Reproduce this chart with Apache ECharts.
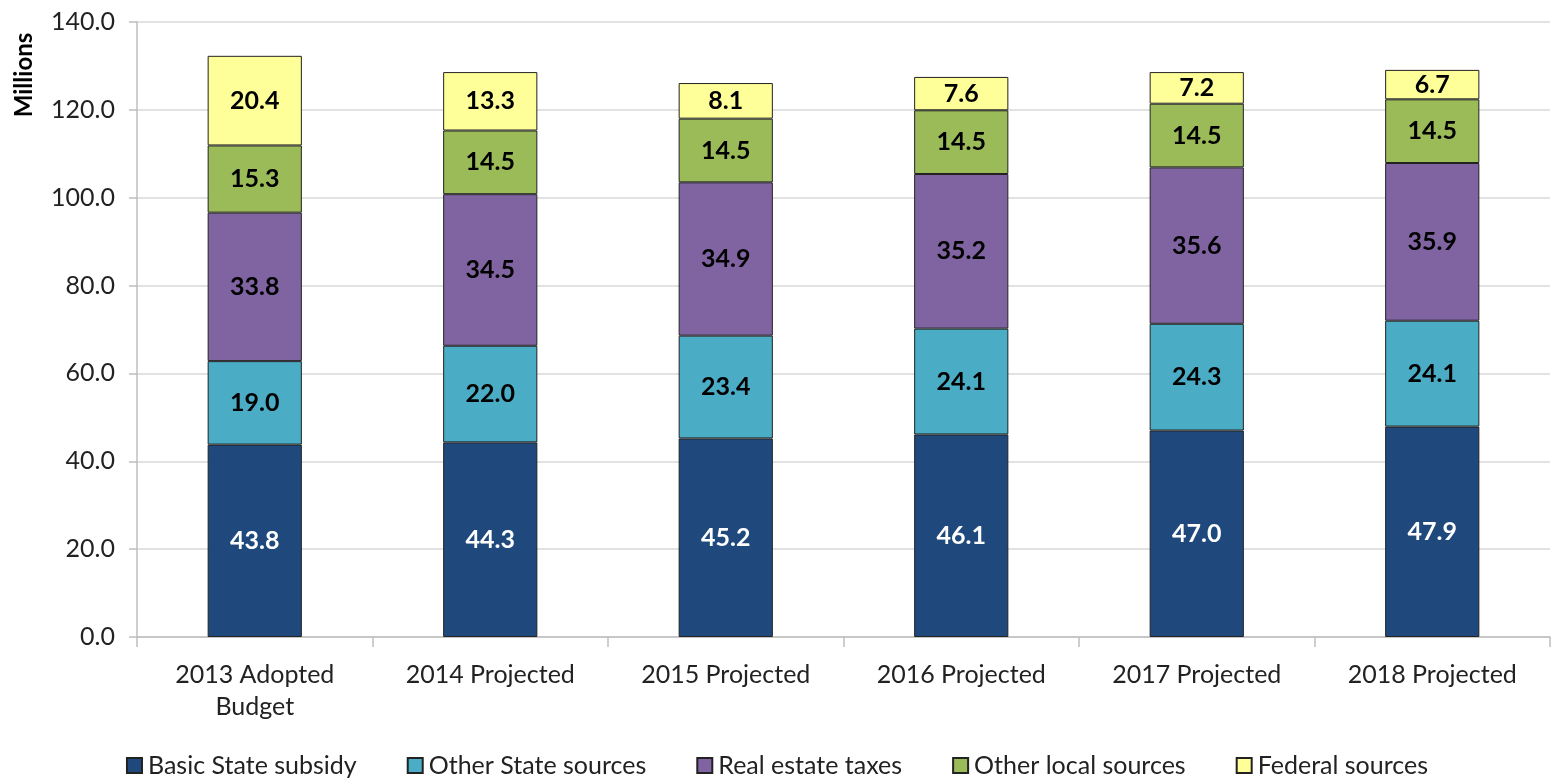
<!DOCTYPE html>
<html>
<head>
<meta charset="utf-8">
<script src="https://cdn.jsdelivr.net/npm/echarts@6/dist/echarts.min.js"></script>
<style>
    html, body { margin: 0; padding: 0; background: #fff; }
    #chart { width: 1554px; height: 779px; }
</style>
</head>
<body>
<div id="chart"></div>
<script>
    // categories along x
    const categories = ['2013 Adopted\nBudget', '2014 Projected', '2015 Projected', '2016 Projected', '2017 Projected', '2018 Projected'];

    // revenue sources, millions
    const basicState = [43.8, 44.3, 45.2, 46.1, 47.0, 47.9];
    const otherState = [19.0, 22.0, 23.4, 24.1, 24.3, 24.1];
    const realEstate = [33.8, 34.5, 34.9, 35.2, 35.6, 35.9];
    const otherLocal = [15.3, 14.5, 14.5, 14.5, 14.5, 14.5];
    const federal = [20.4, 13.3, 8.1, 7.6, 7.2, 6.7];

    const seriesNames = ['Basic State subsidy', 'Other State sources', 'Real estate taxes', 'Other local sources', 'Federal sources'];
    const seriesData = [basicState, otherState, realEstate, otherLocal, federal];
    const colors = ['#1F497D', '#4BACC6', '#8064A2', '#9BBB59', '#FFFF99'];
    const labelColors = ['#ffffff', '#000000', '#000000', '#000000', '#000000'];

    const font = 'Lato, "Open Sans", sans-serif';

    const chart = echarts.init(document.getElementById('chart'));

    const option = {
        animation: false,
        grid: { left: 137, right: 4, top: 22, bottom: 142 },
        legend: {
            bottom: -4,
            left: 'center',
            itemWidth: 15,
            itemHeight: 15,
            itemGap: 50,
            icon: 'rect',
            textStyle: { fontFamily: font, fontSize: 25, color: '#222', padding: [0, 0, 0, 1] },
            data: seriesNames
        },
        graphic: [{
            type: 'text',
            x: 24,
            y: 75,
            rotation: Math.PI / 2,
            style: {
                text: 'Millions',
                font: 'bold 24px ' + font,
                fill: '#000',
                align: 'center',
                verticalAlign: 'middle'
            }
        }],
        xAxis: {
            type: 'category',
            data: categories,
            axisLine: { lineStyle: { color: '#bfbfbf', width: 1.5 } },
            axisTick: { show: true, length: 10, lineStyle: { color: '#bfbfbf', width: 1.5 } },
            axisLabel: { fontFamily: font, fontSize: 25, color: '#222', margin: 22, lineHeight: 32 }
        },
        yAxis: {
            type: 'value',
            min: 0,
            max: 140,
            interval: 20,
            axisLine: { show: true, lineStyle: { color: '#bfbfbf', width: 1.5 } },
            axisTick: { show: true, length: 8, lineStyle: { color: '#bfbfbf', width: 1.5 } },
            splitLine: { lineStyle: { color: '#d9d9d9', width: 1.5 } },
            axisLabel: {
                fontFamily: font, fontSize: 25, color: '#222', margin: 22,
                formatter: v => v.toFixed(1)
            }
        },
        series: seriesNames.map((name, i) => ({
            name: name,
            type: 'bar',
            stack: 'total',
            barWidth: '40%',
            data: seriesData[i],
            itemStyle: { color: colors[i], borderColor: '#222', borderWidth: 1 },
            label: {
                show: true,
                position: 'inside',
                fontFamily: font,
                fontSize: 25,
                fontWeight: 'bold',
                color: labelColors[i],
                formatter: p => p.value.toFixed(1)
            }
        }))
    };

    chart.setOption(option);
</script>
</body>
</html>
